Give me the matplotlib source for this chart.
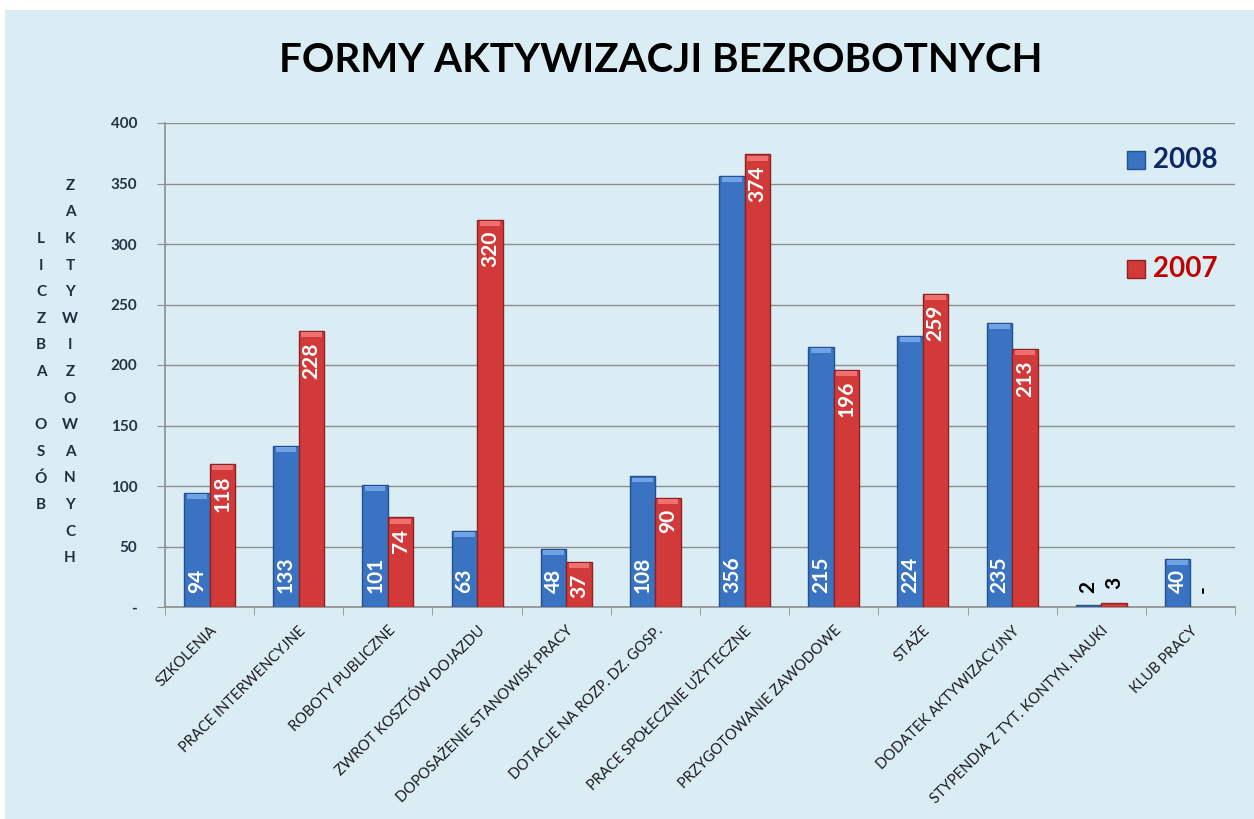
import matplotlib
matplotlib.use("Agg")
import matplotlib.pyplot as plt
import numpy as np
from matplotlib.patches import Rectangle

plt.rcParams['font.family'] = ['Lato', 'DejaVu Sans']

categories = ["SZKOLENIA", "PRACE INTERWENCYJNE", "ROBOTY PUBLICZNE",
              "ZWROT KOSZTÓW DOJAZDU", "DOPOSAŻENIE STANOWISK PRACY",
              "DOTACJE NA ROZP. DZ. GOSP.", "PRACE SPOŁECZNIE UŻYTECZNE",
              "PRZYGOTOWANIE ZAWODOWE", "STAŻE", "DODATEK AKTYWIZACYJNY",
              "STYPENDIA Z TYT. KONTYN. NAUKI", "KLUB PRACY"]
values_2008 = [94, 133, 101, 63, 48, 108, 356, 215, 224, 235, 2, 40]
values_2007 = [118, 228, 74, 320, 37, 90, 374, 196, 259, 213, 3, 0]
series_names = ["2008", "2007"]
y_ticks = [0, 50, 100, 150, 200, 250, 300, 350, 400]
title = "FORMY AKTYWIZACJI BEZROBOTNYCH"
ylabel_1 = "LICZBA OSÓB"
ylabel_2 = "ZAKTYWIZOWANYCH"

BG = "#DAEDF4"
BLUE = "#3A73C2"
BLUE_EDGE = "#24508F"
RED = "#D23A3A"
RED_EDGE = "#8E2222"

W, H = 1254, 819
fig = plt.figure(figsize=(W / 100, H / 100), dpi=100, facecolor="white")
fig.patches.append(Rectangle((5 / W, 0), 1 - 5 / W, 1 - 10 / H,
                             transform=fig.transFigure, facecolor=BG,
                             edgecolor="none", zorder=-10))

ax = fig.add_axes([165 / W, 1 - 607 / H, (1235 - 165) / W, (607 - 123) / H])
ax.set_facecolor("none")

n = len(categories)
x = np.arange(n)
bw = 1 / 3.5

b1 = ax.bar(x - bw / 2, values_2008, bw, color=BLUE, edgecolor=BLUE_EDGE,
            linewidth=[1 if v else 0 for v in values_2008], zorder=3)
b2 = ax.bar(x + bw / 2, values_2007, bw, color=RED, edgecolor=RED_EDGE,
            linewidth=[1 if v else 0 for v in values_2007], zorder=3)

# top bevel highlights
for bars, hl in ((b1, "#6FA3E6"), (b2, "#EE7070")):
    for r in bars:
        h = r.get_height()
        if h > 8:
            ax.bar(r.get_x() + r.get_width() / 2, 4, r.get_width() * 0.8,
                   bottom=h - 5, color=hl, edgecolor="none", zorder=4)

ax.set_xlim(-0.5, n - 0.5)
ax.set_ylim(0, 400)
ax.set_yticks(y_ticks)
ax.set_yticklabels(["-" if v == 0 else str(v) for v in y_ticks],
                   fontsize=11, fontweight="bold", color="#243444")
ax.yaxis.grid(True, color="#8E8E8E", linewidth=1, zorder=0)
ax.set_axisbelow(True)
ax.tick_params(axis="y", direction="out", length=6, color="#8E8E8E", pad=14)

ax.set_xticks(x)
ax.set_xticklabels(categories, rotation=45, ha="right",
                   rotation_mode="anchor", fontsize=10.5, color="#1A1A1A")
ax.tick_params(axis="x", which="major", length=0, pad=12)
ax.set_xticks(np.arange(-0.5, n, 1), minor=True)
ax.tick_params(axis="x", which="minor", direction="out", length=6,
               color="#8E8E8E")

for s in ("top", "right"):
    ax.spines[s].set_visible(False)
for s in ("left", "bottom"):
    ax.spines[s].set_color("#8E8E8E")
    ax.spines[s].set_linewidth(1.2)

# value labels
lab_kw = dict(rotation=90, fontsize=15, fontweight="bold", ha="center",
              textcoords="offset points", zorder=6)
for r, v in zip(b1, values_2008):
    cx = r.get_x() + r.get_width() / 2
    if v >= 20:
        ax.annotate(str(v), (cx, 0), xytext=(0, 10), va="bottom",
                    color="white", **lab_kw)
    else:
        ax.annotate(str(v) if v else "-", (cx, v), xytext=(0, 8),
                    va="bottom", color="black", **lab_kw)
for r, v in zip(b2, values_2007):
    cx = r.get_x() + r.get_width() / 2
    if v >= 20:
        ax.annotate(str(v), (cx, v), xytext=(0, -8), va="top",
                    color="white", **lab_kw)
    else:
        ax.annotate(str(v) if v else "-", (cx, v), xytext=(0, 10),
                    va="bottom", color="black", **lab_kw)

# title
fig.text(0.527, 1 - 60 / H, title, ha="center", va="center",
         fontsize=29, fontweight="bold", color="black")

# vertical stacked y label
step = 26.6
for col_x, word in ((41, ylabel_1), (70, ylabel_2)):
    m = len(word)
    for i, ch in enumerate(word):
        fig.text(col_x / W, 1 - (372 - (m - 1) / 2 * step + i * step) / H, ch,
                 ha="center", va="center", fontsize=11, fontweight="bold",
                 color="#1F2F3F")

# legend
for (name, col, edge, tcol, yc) in ((series_names[0], BLUE, BLUE_EDGE, "#0B2766", 160),
                                    (series_names[1], RED, RED_EDGE, "#C00000", 269)):
    fig.patches.append(Rectangle((1127 / W, 1 - (yc + 9) / H), 18 / W, 18 / H,
                                 transform=fig.transFigure, facecolor=col,
                                 edgecolor=edge, linewidth=1, zorder=5))
    fig.text(1153 / W, 1 - yc / H, name, ha="left", va="center",
             fontsize=20, fontweight="bold", color=tcol)

fig.savefig("out.png", dpi=100, facecolor="white")
